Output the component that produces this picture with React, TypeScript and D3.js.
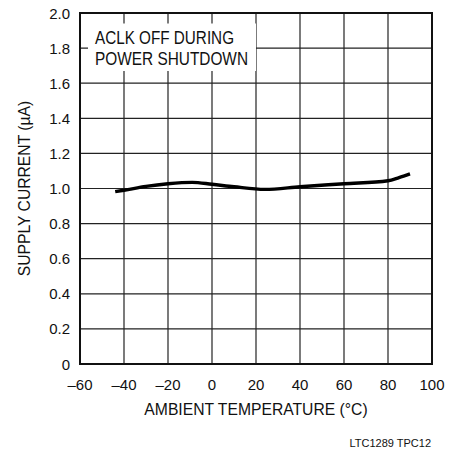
import React from "react";
import * as d3 from "d3";

const temps = [-44, -40, -30, -20, -9, 0, 10, 24, 40, 60, 80, 85, 90];
const currents = [0.982, 0.99, 1.012, 1.027, 1.035, 1.024, 1.01, 0.995, 1.01, 1.027, 1.044, 1.062, 1.083];
const xTicks = [-60, -40, -20, 0, 20, 40, 60, 80, 100];
const yTicks = [0, 0.2, 0.4, 0.6, 0.8, 1.0, 1.2, 1.4, 1.6, 1.8, 2.0];
const noteLines = ["ACLK OFF DURING", "POWER SHUTDOWN"];
const xTitle = "AMBIENT TEMPERATURE (°C)";
const yTitle = "SUPPLY CURRENT (µA)";
const footer = "LTC1289 TPC12";

const W = 464;
const H = 449;
const L = 80, R = 432, T = 13, B = 364;

export default function App() {
  const x = d3.scaleLinear().domain([-60, 100]).range([L, R]);
  const y = d3.scaleLinear().domain([0, 2]).range([B, T]);
  const line = d3
    .line<number>()
    .x((_, i) => x(temps[i]))
    .y((d) => y(d))
    .curve(d3.curveMonotoneX);
  const fmtY = (v: number) => (v === 0 ? "0" : v.toFixed(1));
  const fmtX = (v: number) => (v < 0 ? "\u2013" + Math.abs(v) : String(v));
  const font = "'Liberation Sans', Arial, sans-serif";
  return (
    <svg
      width={W}
      height={H}
      style={{ position: "absolute", left: 0, top: 0, background: "#fff" }}
    >
      <rect x={0} y={0} width={W} height={H} fill="#fff" />
      {/* grid */}
      {xTicks.slice(1, -1).map((t) => (
        <line key={"gx" + t} x1={x(t)} x2={x(t)} y1={T} y2={B} stroke="#222" strokeWidth={1.2} />
      ))}
      {yTicks.slice(1, -1).map((t) => (
        <line key={"gy" + t} x1={L} x2={R} y1={y(t)} y2={y(t)} stroke="#222" strokeWidth={1.2} />
      ))}
      {/* annotation box */}
      <rect x={88} y={23.5} width={168} height={47.5} fill="#fff" />
      {noteLines.map((s, i) => (
        <text
          key={s}
          x={95}
          y={44.3 + i * 20.3}
          fontFamily="'Liberation Sans Narrow', 'Liberation Sans', sans-serif"
          fontSize={17.6}
          textLength={i === 0 ? 139 : 153}
          lengthAdjust="spacingAndGlyphs"
          fill="#111"
        >
          {s}
        </text>
      ))}
      {/* frame */}
      <rect x={L} y={T} width={R - L} height={B - T} fill="none" stroke="#111" strokeWidth={2} />
      {/* curve */}
      <path d={line(currents) || ""} fill="none" stroke="#000" strokeWidth={3.4} />
      {/* y tick labels */}
      {yTicks.map((t) => (
        <text
          key={"ty" + t}
          x={70}
          y={y(t) + 5.5}
          textAnchor="end"
          fontFamily={font}
          fontSize={15}
          fill="#111"
        >
          {fmtY(t)}
        </text>
      ))}
      {/* x tick labels */}
      {xTicks.map((t) => (
        <text
          key={"tx" + t}
          x={x(t)}
          y={390}
          textAnchor="middle"
          fontFamily={font}
          fontSize={15}
          fill="#111"
        >
          {fmtX(t)}
        </text>
      ))}
      <text
        x={(L + R) / 2}
        y={415}
        textAnchor="middle"
        fontFamily={font}
        fontSize={15.7}
        fill="#111"
      >
        {xTitle}
      </text>
      <text
        transform={`translate(30, ${(T + B) / 2}) rotate(-90)`}
        textAnchor="middle"
        fontFamily={font}
        fontSize={15.7}
        fill="#111"
      >
        {yTitle}
      </text>
      <text
        x={431}
        y={447}
        textAnchor="end"
        fontFamily="'Liberation Sans Narrow', 'Liberation Sans', sans-serif"
        fontSize={11}
        fill="#111"
      >
        {footer}
      </text>
    </svg>
  );
}
